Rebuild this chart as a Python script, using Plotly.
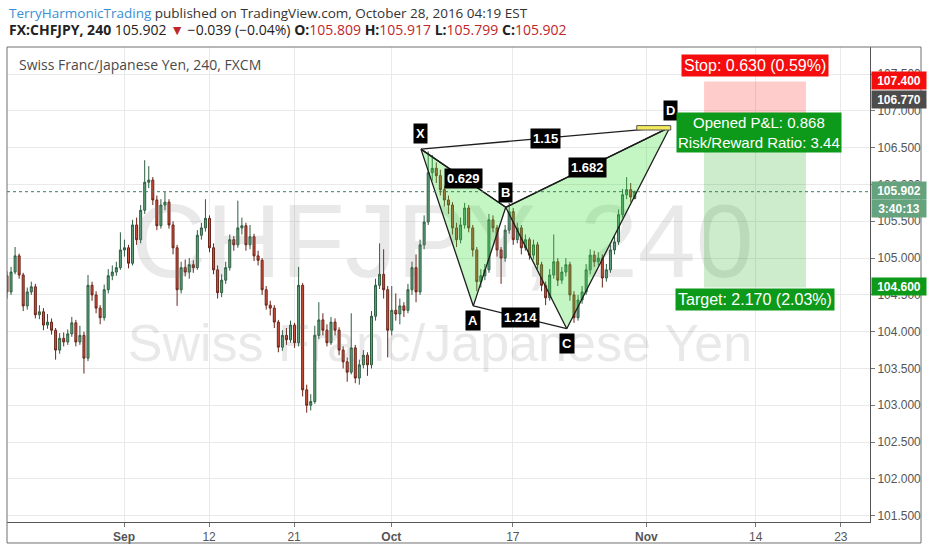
import plotly.graph_objects as go

# 240-minute CHF/JPY candles, 3 per trading day, starting ~9.6 trading days before Sep 1
START_DAY = -9.63
BARS_PER_DAY = 3

OPEN = [104.76, 104.54, 104.81, 105.03, 104.77, 104.35, 104.54, 104.61, 104.23, 104.27,
        104.09, 104.13, 104.02, 103.75, 103.91, 103.86, 103.97, 104.12, 103.86, 103.95,
        103.64, 104.63, 104.50, 104.32, 104.19, 104.57, 104.76, 104.81, 104.87, 105.11,
        105.14, 104.93, 105.45, 105.25, 105.65, 106.03, 106.06, 105.79, 105.44, 105.72,
        105.76, 105.45, 105.14, 104.57, 104.87, 104.81, 104.91, 104.87, 105.31, 105.41,
        105.54, 105.14, 104.84, 104.53, 104.70, 104.87, 105.25, 105.18, 105.41, 105.44,
        105.18, 105.29, 105.03, 104.97, 104.57, 104.36, 104.32, 104.13, 103.79, 103.95,
        103.89, 104.09, 103.85, 104.63, 103.21, 103.00, 103.05, 103.95, 104.16, 104.02,
        103.85, 104.13, 104.02, 103.75, 103.59, 103.45, 103.78, 103.37, 103.55, 103.68,
        103.55, 104.21, 104.63, 104.78, 104.57, 104.02, 104.29, 104.24, 104.35, 104.29,
        104.57, 104.87, 104.54, 105.18, 105.49, 106.16, 106.22, 106.12, 105.93, 105.79,
        105.72, 105.41, 105.25, 105.45, 105.68, 105.41, 105.11, 104.68, 104.76, 104.84,
        105.52, 105.41, 105.11, 105.00, 105.38, 105.63, 105.25, 105.41, 105.14, 105.25,
        105.04, 105.18, 104.91, 104.63, 104.46, 104.77, 104.95, 104.70, 104.81, 104.91,
        104.50, 104.19, 104.43, 104.54, 104.84, 105.04, 104.95, 105.00, 104.73, 104.84,
        105.11, 105.22, 105.59, 105.86, 105.93, 105.809]
HIGH = [104.82, 104.88, 105.15, 105.06, 104.80, 104.60, 104.68, 104.65, 104.36, 104.32,
        104.24, 104.18, 104.05, 103.98, 103.99, 104.03, 104.20, 104.16, 104.08, 104.00,
        104.77, 104.68, 104.55, 104.36, 104.64, 104.85, 104.90, 104.95, 105.35, 105.25,
        105.18, 105.52, 105.55, 105.72, 106.33, 106.25, 106.10, 105.85, 105.80, 105.90,
        105.80, 105.50, 105.18, 104.95, 104.98, 105.00, 104.97, 105.38, 105.48, 105.80,
        105.58, 105.20, 104.90, 104.78, 104.95, 105.32, 105.30, 105.78, 105.55, 105.48,
        105.45, 105.33, 105.10, 105.00, 104.62, 104.42, 104.36, 104.16, 104.02, 104.05,
        104.15, 104.12, 104.88, 104.66, 103.28, 103.15, 104.08, 104.40, 104.25, 104.10,
        104.20, 104.18, 104.06, 103.80, 103.65, 104.25, 103.82, 103.62, 103.75, 103.72,
        104.28, 104.72, 105.20, 105.12, 104.62, 104.62, 104.52, 104.45, 104.40, 104.65,
        104.95, 105.05, 105.25, 105.58, 106.45, 106.40, 106.30, 106.20, 105.98, 105.85,
        105.76, 105.48, 105.55, 105.75, 105.72, 105.45, 105.15, 104.85, 104.92, 105.60,
        105.58, 105.45, 105.15, 105.45, 105.75, 105.68, 105.48, 105.45, 105.32, 105.28,
        105.25, 105.22, 104.95, 104.68, 104.85, 105.32, 105.00, 104.88, 105.00, 104.95,
        104.55, 104.50, 104.62, 104.92, 105.12, 105.10, 105.08, 105.05, 104.92, 105.18,
        105.30, 105.66, 105.94, 106.10, 106.02, 105.917]
LOW = [104.45, 104.50, 104.78, 104.72, 104.28, 104.30, 104.50, 104.18, 104.17, 104.02,
       104.04, 103.96, 103.62, 103.70, 103.80, 103.82, 103.93, 103.80, 103.82, 103.43,
       103.60, 104.42, 104.25, 104.10, 104.15, 104.52, 104.70, 104.76, 104.84, 105.02,
       104.86, 104.90, 105.18, 105.20, 105.60, 105.95, 105.72, 105.38, 105.40, 105.65,
       105.40, 105.05, 104.35, 104.52, 104.75, 104.72, 104.80, 104.84, 105.25, 105.36,
       105.08, 104.78, 104.45, 104.47, 104.65, 104.83, 105.10, 105.14, 105.32, 105.10,
       105.12, 104.96, 104.90, 104.50, 104.30, 104.22, 104.05, 103.72, 103.74, 103.82,
       103.85, 103.78, 103.80, 103.12, 102.90, 102.93, 103.02, 103.90, 103.95, 103.80,
       103.82, 103.95, 103.68, 103.50, 103.32, 103.42, 103.30, 103.28, 103.50, 103.40,
       103.50, 104.15, 104.58, 104.45, 103.65, 103.95, 104.15, 104.10, 104.20, 104.25,
       104.50, 104.40, 104.50, 105.12, 105.45, 106.05, 106.02, 105.85, 105.70, 105.60,
       105.32, 105.15, 105.20, 105.40, 105.35, 105.02, 104.55, 104.60, 104.70, 104.80,
       105.35, 105.02, 104.65, 104.95, 105.33, 105.18, 105.20, 105.05, 105.10, 104.98,
       104.98, 104.85, 104.55, 104.36, 104.42, 104.72, 104.62, 104.65, 104.75, 104.42,
       104.12, 104.15, 104.38, 104.50, 104.78, 104.88, 104.90, 104.60, 104.68, 104.80,
       105.05, 105.18, 105.55, 105.80, 105.76, 105.799]
CLOSE = [104.54, 104.81, 105.03, 104.77, 104.35, 104.54, 104.61, 104.23, 104.27, 104.09,
         104.13, 104.02, 103.75, 103.91, 103.86, 103.97, 104.12, 103.86, 103.95, 103.64,
         104.63, 104.50, 104.32, 104.19, 104.57, 104.76, 104.81, 104.87, 105.11, 105.14,
         104.93, 105.45, 105.25, 105.65, 106.03, 106.06, 105.79, 105.44, 105.72, 105.76,
         105.45, 105.14, 104.57, 104.87, 104.81, 104.91, 104.87, 105.31, 105.41, 105.54,
         105.14, 104.84, 104.53, 104.70, 104.87, 105.25, 105.18, 105.41, 105.44, 105.18,
         105.29, 105.03, 104.97, 104.57, 104.36, 104.32, 104.13, 103.79, 103.95, 103.89,
         104.09, 103.85, 104.63, 103.21, 103.00, 103.05, 103.95, 104.16, 104.02, 103.85,
         104.13, 104.02, 103.75, 103.59, 103.45, 103.78, 103.37, 103.55, 103.68, 103.55,
         104.21, 104.63, 104.78, 104.57, 104.02, 104.29, 104.24, 104.35, 104.29, 104.57,
         104.87, 104.54, 105.18, 105.49, 106.16, 106.22, 106.12, 105.93, 105.79, 105.72,
         105.41, 105.25, 105.45, 105.68, 105.41, 105.11, 104.68, 104.76, 104.84, 105.52,
         105.41, 105.11, 105.00, 105.38, 105.63, 105.25, 105.41, 105.14, 105.25, 105.04,
         105.18, 104.91, 104.63, 104.46, 104.77, 104.95, 104.70, 104.81, 104.91, 104.50,
         104.19, 104.43, 104.54, 104.84, 105.04, 104.95, 105.00, 104.73, 104.84, 105.11,
         105.22, 105.59, 105.86, 105.93, 105.83, 105.902]

# x axis in trading days counted from Sep 1
TICK_DAYS = [0, 7, 14, 22, 32, 43, 52, 59]
TICK_TEXT = ['<b>Sep</b>', '12', '21', '<b>Oct</b>', '17', '<b>Nov</b>', '14', '23']

# harmonic pattern points
PAT_NAMES = ['X', 'A', 'B', 'C', 'D']
PAT_T = [24.44, 28.75, 31.42, 36.44, 44.94]
PAT_P = [106.48, 104.35, 105.69, 104.04, 106.78]
PAT_RATIOS = [('X', 'D', '1.15'), ('X', 'B', '0.629'), ('A', 'C', '1.214'), ('B', 'D', '1.682')]

# short position tool
ENTRY = 106.77
STOP = 107.40
TARGET = 104.60
TOOL_T0, TOOL_T1 = 47.74, 56.13
LAST = 105.902

bar_t = [START_DAY + i / BARS_PER_DAY for i in range(len(CLOSE))]
pt = dict(zip(PAT_NAMES, zip(PAT_T, PAT_P)))

XR = [-9.63, 61.40]
YR = [101.414, 107.868]

fig = go.Figure()

# watermark (drawn first so it sits behind the candles)
fig.add_trace(go.Scatter(x=[26.2, 26.0], y=[105.10, 103.78], mode='text',
                         text=['CHFJPY, 240', 'Swiss Franc/Japanese Yen'],
                         textfont=dict(family='Liberation Sans', size=[104, 52],
                                       color='rgba(120,120,120,0.16)'),
                         hoverinfo='skip', showlegend=False))

fig.add_trace(go.Candlestick(
    x=bar_t, open=OPEN, high=HIGH, low=LOW, close=CLOSE,
    increasing=dict(line=dict(color='#2d5e41', width=1), fillcolor='#5fa47c'),
    decreasing=dict(line=dict(color='#6b2419', width=1), fillcolor='#d0503c'),
    hoverinfo='skip', showlegend=False))

# pattern triangles
for tri in (['X', 'A', 'B'], ['B', 'C', 'D']):
    fig.add_trace(go.Scatter(x=[pt[n][0] for n in tri + tri[:1]],
                             y=[pt[n][1] for n in tri + tri[:1]],
                             mode='lines', fill='toself',
                             fillcolor='rgba(60,225,60,0.30)',
                             line=dict(color='#1e1e1e', width=1.3),
                             hoverinfo='skip', showlegend=False))
for a, b, _ in PAT_RATIOS:
    fig.add_trace(go.Scatter(x=[pt[a][0], pt[b][0]], y=[pt[a][1], pt[b][1]],
                             mode='lines', line=dict(color='#1e1e1e', width=1.3),
                             hoverinfo='skip', showlegend=False))

shapes = []
# position tool zones
shapes.append(dict(type='rect', x0=TOOL_T0, x1=TOOL_T1, y0=ENTRY, y1=STOP,
                   fillcolor='rgba(255,0,0,0.2)', line_width=0, layer='above'))
shapes.append(dict(type='rect', x0=TOOL_T0, x1=TOOL_T1, y0=TARGET, y1=ENTRY,
                   fillcolor='rgba(0,160,0,0.2)', line_width=0, layer='above'))
# entry marker
shapes.append(dict(type='rect', x0=42.2, x1=45.0, y0=ENTRY - 0.03, y1=ENTRY + 0.03,
                   fillcolor='#f2ea5a', line=dict(color='#555', width=1), layer='above'))
# last price line
shapes.append(dict(type='line', xref='x', x0=XR[0], x1=XR[1], y0=LAST, y1=LAST,
                   line=dict(color='#3c7d5a', width=1, dash='dot'), layer='above'))
# outer widget frame
shapes.append(dict(type='rect', xref='paper', yref='paper', x0=0, x1=1.0591,
                   y0=-0.0442, y1=1, line=dict(color='#707070', width=1)))

ann = []
lab_font = dict(family='Liberation Sans', size=13, color='white')
shifts = {'X': 16, 'A': -15, 'B': 15, 'C': -15, 'D': 17}
for n in PAT_NAMES:
    ann.append(dict(x=pt[n][0], y=pt[n][1], text='<b>%s</b>' % n, showarrow=False,
                    yshift=shifts[n], bgcolor='black', borderpad=2, font=lab_font))
for a, b, r in PAT_RATIOS:
    ann.append(dict(x=(pt[a][0] + pt[b][0]) / 2, y=(pt[a][1] + pt[b][1]) / 2,
                    text='<b>%s</b>' % r, showarrow=False, bgcolor='black',
                    borderpad=2, font=lab_font))

tool_mid = (TOOL_T0 + TOOL_T1) / 2
tf = dict(family='Liberation Sans', size=16, color='white')
ann.append(dict(x=tool_mid, y=STOP, yanchor='bottom', yshift=4, showarrow=False,
                text='Stop: 0.630 (0.59%)', bgcolor='#f50d0d', borderpad=2, font=tf))
ann.append(dict(x=tool_mid, xshift=4, y=ENTRY, yanchor='middle', yshift=-5,
                showarrow=False,
                text='Opened P&L: 0.868<br>Risk/Reward Ratio: 3.44', bgcolor='#0d9a1a',
                borderpad=1, font=dict(family='Liberation Sans', size=15, color='white')))
ann.append(dict(x=tool_mid, y=TARGET, yanchor='top', yshift=0, showarrow=False,
                text='Target: 2.170 (2.03%)', bgcolor='#0d9a1a', borderpad=2, font=tf))

# price labels on the right axis
axis_labels = [(STOP, '107.400', '#f50d0d', 1), (ENTRY, '106.770', '#4c4c4c', 28),
               (LAST, '105.902', '#65a27e', 1), (LAST, '3:40:13', '#65a27e', -17),
               (TARGET, '104.600', '#0d9a1a', 1)]
for p, t, c, ys in axis_labels:
    ann.append(dict(xref='paper', x=1.001, y=p, yref='y', xanchor='left', yshift=ys,
                    text='<b>%s</b>' % t, showarrow=False, bgcolor=c, width=52,
                    height=15, borderpad=1,
                    font=dict(family='Liberation Sans', size=12, color='white')))

# header and legend text
ann.append(dict(xref='paper', yref='paper', x=0, y=1.072, xanchor='left', yanchor='middle',
                showarrow=False,
                text="<span style='color:#3b8fd4'>TerryHarmonicTrading</span> published on "
                     "TradingView.com, October 28, 2016 04:19 EST",
                font=dict(family='Open Sans', size=13.5, color='#333')))
red = "<span style='color:#c0262b'>%s</span>"
ann.append(dict(xref='paper', yref='paper', x=0, y=1.036, xanchor='left', yanchor='middle',
                showarrow=False,
                text="<b>FX:CHFJPY, 240</b> 105.902 " + red % '▼' + " −0.039 (−0.04%) "
                     "<b>O:</b>" + red % '105.809' + " <b>H:</b>" + red % '105.917' +
                     " <b>L:</b>" + red % '105.799' + " <b>C:</b>" + red % '105.902',
                font=dict(family='Open Sans', size=14, color='#222')))
ann.append(dict(xref='paper', yref='paper', x=0.0116, y=0.964, xanchor='left',
                yanchor='middle', showarrow=False,
                text='Swiss Franc/Japanese Yen, 240, FXCM',
                font=dict(family='Open Sans', size=14, color='#4a4a4a')))

fig.update_layout(
    width=932, height=550,
    margin=dict(l=7, r=62, t=47, b=28),
    paper_bgcolor='white', plot_bgcolor='white',
    shapes=shapes, annotations=ann, showlegend=False,
    xaxis=dict(range=XR, tickvals=TICK_DAYS, ticktext=TICK_TEXT,
               rangeslider=dict(visible=False), showgrid=True, gridcolor='#e9e9e9',
               showline=True, linecolor='#555', ticks='outside', ticklen=4,
               tickcolor='#777', tickfont=dict(family='Liberation Sans', size=12, color='#555'),
               zeroline=False, fixedrange=True),
    yaxis=dict(range=YR, side='right', dtick=0.5, tick0=101.5, tickformat='.3f',
               showgrid=True, gridcolor='#e9e9e9', showline=True, linecolor='#555',
               ticks='outside', ticklen=4, tickcolor='#777',
               tickfont=dict(family='Liberation Sans', size=12, color='#555'),
               zeroline=False, fixedrange=True),
)

# drop the page's default body margin so the 932x550 figure fills the window
fig.write_html("out.html", config={'displayModeBar': False},
               post_script="document.body.style.margin='0';")
